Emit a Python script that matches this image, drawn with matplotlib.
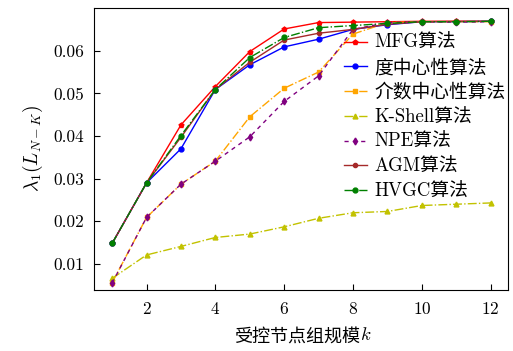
import numpy as np
import matplotlib
matplotlib.use("Agg")
import matplotlib.pyplot as plt

plt.rcParams['font.family'] = ['cmr10', 'Noto Sans CJK SC']
plt.rcParams['mathtext.fontset'] = 'cm'
plt.rcParams['axes.formatter.use_mathtext'] = True
plt.rcParams['axes.unicode_minus'] = False

# group size k
k = [1, 2, 3, 4, 5, 6, 7, 8, 9, 10, 11, 12]

# lambda_1(L_{N-K}) for each method
mfg = [0.0148, 0.0290, 0.0426, 0.0516, 0.0598, 0.0651, 0.0666, 0.0667, 0.0668, 0.0669, 0.0669, 0.0669]
degree = [0.0148, 0.0290, 0.0370, 0.0509, 0.0567, 0.0609, 0.0627, 0.0650, 0.0661, 0.0668, 0.0668, 0.0669]
betweenness = [0.0056, 0.0209, 0.0287, 0.0341, 0.0445, 0.0512, 0.0550, 0.0639, 0.0666, 0.0668, 0.0668, 0.0668]
kshell = [0.0066, 0.0121, 0.0141, 0.0162, 0.0170, 0.0187, 0.0207, 0.0220, 0.0223, 0.0237, 0.0240, 0.0243]
npe = [0.0055, 0.0209, 0.0287, 0.0341, 0.0398, 0.0481, 0.0541, 0.0650, 0.0666, 0.0668, 0.0667, 0.0668]
agm = [0.0148, 0.0290, 0.0397, 0.0509, 0.0573, 0.0625, 0.0641, 0.0650, 0.0662, 0.0668, 0.0669, 0.0669]
hvgc = [0.0148, 0.0290, 0.0401, 0.0509, 0.0584, 0.0631, 0.0654, 0.0659, 0.0664, 0.0668, 0.0668, 0.0669]

fig = plt.figure(figsize=(5.13, 3.51), dpi=100)
ax = fig.add_axes([0.183, 0.174, 0.807, 0.803])

ax.plot(k, mfg, '-', color='red', marker='p', ms=3.5, lw=1.0, label='MFG算法')
ax.plot(k, degree, '-', color='blue', marker='o', ms=3.5, lw=1.0, label='度中心性算法')
ax.plot(k, betweenness, '-.', color='orange', marker='s', ms=3.5, lw=1.0, label='介数中心性算法')
ax.plot(k, kshell, '-.', color='#c2c200', marker='^', ms=3.5, lw=1.0, label='K-Shell算法')
ax.plot(k, npe, '--', color='purple', marker='d', ms=3.5, lw=1.0, dashes=(3, 3), label='NPE算法')
ax.plot(k, agm, '-', color='brown', marker='o', ms=3, lw=1.0, label='AGM算法')
ax.plot(k, hvgc, '-.', color='green', marker='o', ms=3.5, lw=1.0, label='HVGC算法')

ax.set_xlim(0.47, 12.5)
ax.set_ylim(0.0039, 0.070)
ax.set_xticks([2, 4, 6, 8, 10, 12])
ax.set_yticks([0.01, 0.02, 0.03, 0.04, 0.05, 0.06])
ax.set_yticklabels(['0.01', '0.02', '0.03', '0.04', '0.05', '0.06'])
ax.tick_params(direction='in', labelsize=12.5, length=4)
ax.tick_params(axis='x', pad=8)
ax.tick_params(axis='y', pad=7)

# x label: Chinese text followed by an italic k
xlab = ax.set_xlabel('受控节点组规模', fontsize=13, labelpad=8)
xlab.set_x(0.49)
ax.annotate('$k$', xy=(1, 0.08), xycoords=xlab, ha='left', va='bottom', fontsize=13.5)
ax.set_ylabel(r'$\lambda_1(L_{N-K})$', fontsize=14, labelpad=6)

ax.legend(loc='center left', bbox_to_anchor=(0.6, 0.612), frameon=False,
          fontsize=13.5, handlelength=1.2, labelspacing=0.36, borderaxespad=0,
          borderpad=0.1, handletextpad=0.4)

fig.savefig('out.png', dpi=100)
